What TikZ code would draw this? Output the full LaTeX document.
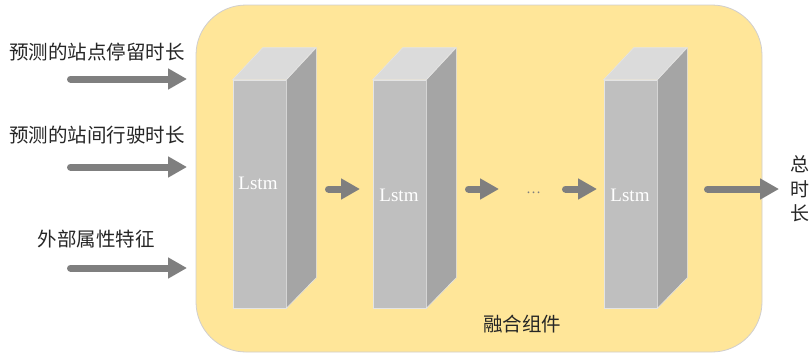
\documentclass[tikz,border=0pt]{standalone}
\usepackage{fontspec}
\setmainfont{Liberation Serif}
\newfontfamily\cjk{Noto Sans CJK SC}
\usetikzlibrary{arrows.meta}
\definecolor{panel}{HTML}{FFE699}
\definecolor{panelborder}{HTML}{D0CECE}
\definecolor{frontc}{HTML}{BFBFBF}
\definecolor{sidec}{HTML}{A5A5A5}
\definecolor{topc}{HTML}{DBDBDB}
\definecolor{edgec}{HTML}{E4E4E4}
\definecolor{arrowc}{HTML}{7F7F7F}
\definecolor{txtc}{HTML}{262626}
\tikzset{
  panelbox/.style={draw=panelborder, fill=panel, line width=0.8pt, rounded corners=50pt,
    minimum width=566pt, minimum height=347pt, inner sep=0pt},
  frontface/.style={draw=edgec, fill=frontc, line width=0.6pt, minimum width=53pt,
    minimum height=228pt, inner sep=0pt},
  sideface/.style={draw=edgec, fill=sidec, line width=0.6pt},
  topface/.style={draw=edgec, fill=topc, line width=0.6pt},
  arr/.style={draw=arrowc, line width=7pt, line cap=round, -{Triangle[length=19pt,width=20pt]}},
  cjklabel/.style={text=txtc, font=\cjk\fontsize{19.5}{24.5}\selectfont, inner sep=0pt},
  lstmlabel/.style={text=white, font=\fontsize{19}{22}\selectfont, inner sep=0pt},
}
\newcommand\mycube[4]{%
  \node[frontface] (#1) at (#2,194) {};
  \filldraw[sideface] (#1.north east) -- ++(30,-32) -- ++(0,230) -- (#1.south east) -- cycle;
  \filldraw[topface] (#1.north west) -- ++(30,-32) -- ++(53,0) -- (#1.north east) -- cycle;
  \node[lstmlabel] (#1t) at (#3,#4) {Lstm};
}
\begin{document}
\begin{tikzpicture}[x=1pt,y=-1pt]
\useasboundingbox (0,0) rectangle (810,354);
\node[panelbox] (fuse) at (479,178.5) {};

\mycube{b1}{259.5}{258}{183}
\mycube{b2}{399.5}{399}{195}
\mycube{b3}{630.5}{630}{195}

% left inputs
\node[cjklabel] (l1) at (97,52) {预测的站点停留时长};
\node[cjklabel] (l2) at (97,135) {预测的站间行驶时长};
\node[cjklabel] (l3) at (96,239) {外部属性特征};
\coordinate (i1s) at (70.5,79);  \coordinate (i1e) at (187,79);
\coordinate (i2s) at (70.5,167); \coordinate (i2e) at (187,167);
\coordinate (i3s) at (70.5,268); \coordinate (i3e) at (187,268);
\draw[arr] (i1s) -- (i1e);
\draw[arr] (i2s) -- (i2e);
\draw[arr] (i3s) -- (i3e);

% between boxes
\coordinate (a1s) at (328.5,189); \coordinate (a1e) at (360,189);
\coordinate (a2s) at (468.5,189); \coordinate (a2e) at (499,189);
\coordinate (a3s) at (565.5,189); \coordinate (a3e) at (597,189);
\draw[arr] (a1s) -- (a1e);
\draw[arr] (a2s) -- (a2e);
\draw[arr] (a3s) -- (a3e);
\node[text=arrowc, font=\fontsize{15}{17}\selectfont, inner sep=0pt, anchor=base] (dots) at (533.5,193.5) {…};

% output
\coordinate (os) at (707.5,189); \coordinate (oe) at (779,189);
\draw[arr] (os) -- (oe);
\node[cjklabel, align=center, font=\cjk\fontsize{19}{24.5}\selectfont] (out) at (800,189) {总\\时\\长};

\node[cjklabel] (fname) at (522,324) {融合组件};
\end{tikzpicture}
\end{document}
